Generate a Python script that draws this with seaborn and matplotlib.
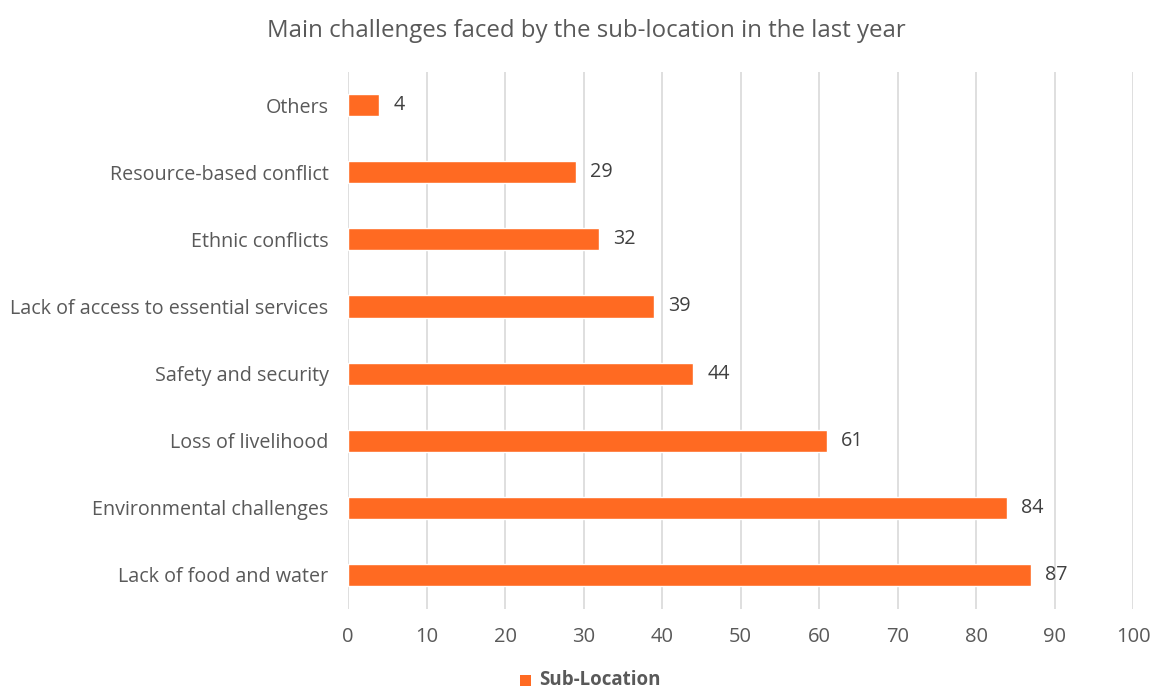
import matplotlib
matplotlib.use("Agg")
import matplotlib.pyplot as plt
import seaborn as sns
import pandas as pd

categories = [
    "Others",
    "Resource-based conflict",
    "Ethnic conflicts",
    "Lack of access to essential services",
    "Safety and security",
    "Loss of livelihood",
    "Environmental challenges",
    "Lack of food and water",
]
values = [4, 29, 32, 39, 44, 61, 84, 87]
series_name = "Sub-Location"
x_ticks = [0, 10, 20, 30, 40, 50, 60, 70, 80, 90, 100]

sns.set_theme(style="white")
plt.rcParams["font.family"] = ["Open Sans", "DejaVu Sans"]

text_color = "#595959"
bar_color = "#FF6A22"
grid_color = "#D9D9D9"

df = pd.DataFrame({"category": categories, "value": values, "series": series_name})

fig = plt.figure(figsize=(11.54, 6.89), dpi=100)
ax = fig.add_axes([0.3016, 0.1168, 0.6802, 0.7794])

sns.barplot(data=df, x="value", y="category", hue="series", order=categories,
            palette=[bar_color], width=0.33, ax=ax, legend=False, saturation=1)

ax.set_xlim(0, 100)
ax.set_xticks(x_ticks)
ax.xaxis.grid(True, color=grid_color, linewidth=1.2)
ax.set_axisbelow(True)
for s in ax.spines.values():
    s.set_visible(False)
ax.tick_params(axis="both", length=0, colors=text_color)
ax.tick_params(axis="x", pad=13, labelsize=14.5)
ax.tick_params(axis="y", pad=14, labelsize=14.2)
ax.set_xlabel("")
ax.set_ylabel("")

for cont in ax.containers:
    ax.bar_label(cont, labels=[str(v) for v in values], padding=10,
                 color="#404040", fontsize=14.2)

fig.text(0.508, 0.955, "Main challenges faced by the sub-location in the last year",
         ha="center", va="center", fontsize=17.3, color=text_color)

# legend entry below the axis
fig.patches.append(matplotlib.patches.Rectangle((0.451, 0.004), 0.0095, 0.0165,
                   transform=fig.transFigure, facecolor=bar_color, edgecolor="none"))
fig.text(0.467, 0.0125, series_name, ha="left", va="center", fontsize=13.5,
         fontweight="bold", color=text_color)

fig.savefig("out.png", dpi=100)
